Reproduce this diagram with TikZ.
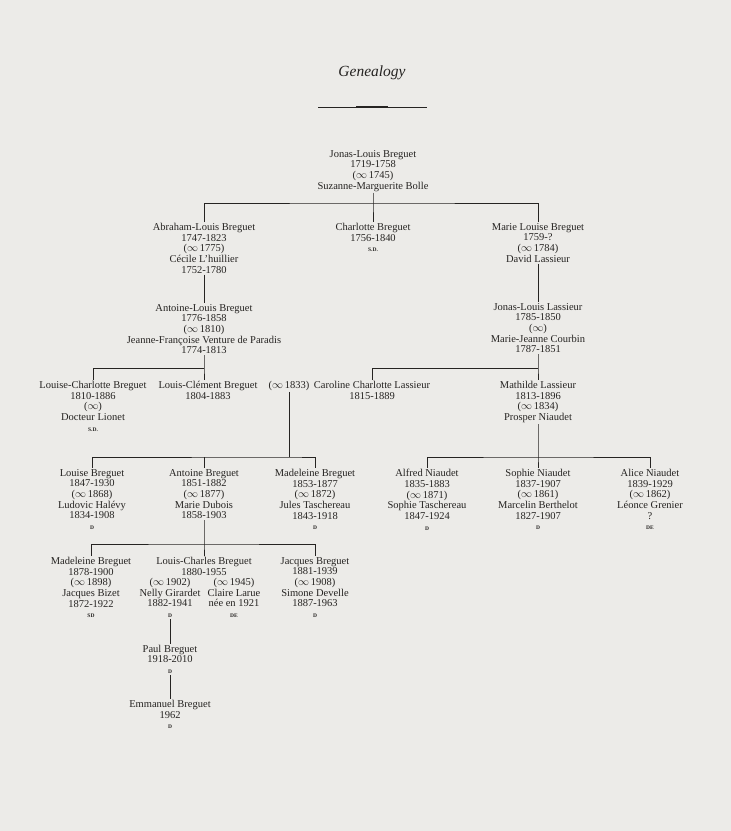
\documentclass[tikz,border=0pt]{standalone}
\usepackage{fontspec}
\setmainfont{Liberation Serif}
\usepackage{tikz}
\usetikzlibrary{positioning}
\definecolor{paper}{RGB}{236,235,232}
\definecolor{ink}{RGB}{38,36,34}
\newcommand{\wed}[1]{($\infty$\,#1)}
\newcommand{\sd}[1]{{\fontsize{5.5}{6}\selectfont\bfseries #1}}

\begin{document}
\begin{tikzpicture}[
    x=1pt, y=-1pt,
    person/.style={anchor=north, align=center, inner sep=1pt, text=ink, font=\fontsize{10.5}{10.7}\selectfont},
    ttl/.style={text=ink, font=\fontsize{15.5}{17}\selectfont\itshape},
    tie/.style={draw=ink, line width=0.7pt},
  ]
    \fill[paper] (0,0) rectangle (731,831);
    % ===== title =====
    \node[ttl] (title) at (372,73) {Genealogy};
    \draw[ink, line width=0.6pt] (318,107) -- (427,107);
    \draw[ink, line width=2.6pt] (356,107) -- (388,107);

    % ===== generation 1-2 =====
    \node[person] (JLB) at (373,149) {Jonas-Louis Breguet\\1719-1758\\\wed{1745}\\Suzanne-Marguerite Bolle};
    \node[person] (ALB) at (204,222) {Abraham-Louis Breguet\\1747-1823\\\wed{1775}\\Cécile L'huillier\\1752-1780};
    \node[person] (CB)  at (373,222) {Charlotte Breguet\\1756-1840\\\sd{S.D.}};
    \node[person] (MLB) at (538,222) {Marie Louise Breguet\\1759-?\\\wed{1784}\\David Lassieur};
    \node[person] (ALB2) at (204,303) {Antoine-Louis Breguet\\1776-1858\\\wed{1810}\\Jeanne-Françoise Venture de Paradis\\1774-1813};
    \node[person] (JLL)  at (538,302) {Jonas-Louis Lassieur\\1785-1850\\($\infty$)\\Marie-Jeanne Courbin\\1787-1851};

    % ===== generation 3 =====
    \node[person] (LCH)   at (93,380)  {Louise-Charlotte Breguet\\1810-1886\\($\infty$)\\Docteur Lionet\\\sd{S.D.}};
    \node[person] (LCL)   at (208,380) {Louis-Clément Breguet\\1804-1883};
    \node[person] (M1833) at (289,380) {\wed{1833}};
    \node[person] (CCL)   at (372,380) {Caroline Charlotte Lassieur\\1815-1889};
    \node[person] (MAT)   at (538,380) {Mathilde Lassieur\\1813-1896\\\wed{1834}\\Prosper Niaudet};

    % ===== generation 4 =====
    \node[person] (LB)  at (92,468)  {Louise Breguet\\1847-1930\\\wed{1868}\\Ludovic Halévy\\1834-1908\\\sd{D}};
    \node[person] (AB)  at (204,468) {Antoine Breguet\\1851-1882\\\wed{1877}\\Marie Dubois\\1858-1903};
    \node[person] (MB)  at (315,468) {Madeleine Breguet\\1853-1877\\\wed{1872}\\Jules Taschereau\\1843-1918\\\sd{D}};
    \node[person] (AN)  at (427,468) {Alfred Niaudet\\1835-1883\\\wed{1871}\\Sophie Taschereau\\1847-1924\\\sd{D}};
    \node[person] (SN)  at (538,468) {Sophie Niaudet\\1837-1907\\\wed{1861}\\Marcelin Berthelot\\1827-1907\\\sd{D}};
    \node[person] (AlN) at (650,468) {Alice Niaudet\\1839-1929\\\wed{1862}\\Léonce Grenier\\?\\\sd{DE}};

    % ===== generation 5-7 =====
    \node[person] (MAB) at (91,556)  {Madeleine Breguet\\1878-1900\\\wed{1898}\\Jacques Bizet\\1872-1922\\\sd{SD}};
    \node[person] (LCB) at (204,556) {Louis-Charles Breguet\\1880-1955};
    \node[person] (NEL) at (170,577) {\wed{1902}\\Nelly Girardet\\1882-1941\\\sd{D}};
    \node[person] (CLA) at (234,577) {\wed{1945}\\Claire Larue\\née en 1921\\\sd{DE}};
    \node[person] (JB)  at (315,556) {Jacques Breguet\\1881-1939\\\wed{1908}\\Simone Develle\\1887-1963\\\sd{D}};
    \node[person, below=25pt of NEL] (PB) {Paul Breguet\\1918-2010\\\sd{D}};
    \node[person, below=24pt of PB]  (EB) {Emmanuel Breguet\\1962\\\sd{D}};

    % ===== bars =====
    \coordinate (b1) at (373,203);
    \coordinate (b2) at (204,368);
    \coordinate (b3) at (538,368);
    \coordinate (b4) at (289,457);
    \coordinate (b5) at (538,457);
    \coordinate (b6) at (204,544);

    \draw[tie] (JLB.south) -- (b1) -- (CB.north);
    \draw[tie] (ALB.north) |- (b1) -| (MLB.north);
    \draw[tie] (ALB.south) -- (ALB2.north);
    \draw[tie] (MLB.south) -- (JLL.north);
    \draw[tie] (ALB2.south) -- (b2) -- (b2 |- LCL.north);   % Antoine-Louis -> enfants
    \draw[tie] (b2) -| (LCH.north);
    \draw[tie] (JLL.south) -- (b3) -- (MAT.north);
    \draw[tie] (b3) -| (CCL.north);
    \draw[tie] (M1833.south) -- (b4);                       % mariage 1833
    \draw[tie] (LB.north) |- (b4) -| (MB.north);
    \draw[tie] (b4 -| AB.north) -- (AB.north);
    \draw[tie] (MAT.south) -- (b5) -- (SN.north);
    \draw[tie] (AN.north) |- (b5) -| (AlN.north);
    \draw[tie] (AB.south) -- (b6) -- (LCB.north);
    \draw[tie] (MAB.north) |- (b6) -| (JB.north);
    \draw[tie] (NEL.south) -- (PB.north);
    \draw[tie] (PB.south) -- (EB.north);
\end{tikzpicture}
\end{document}
